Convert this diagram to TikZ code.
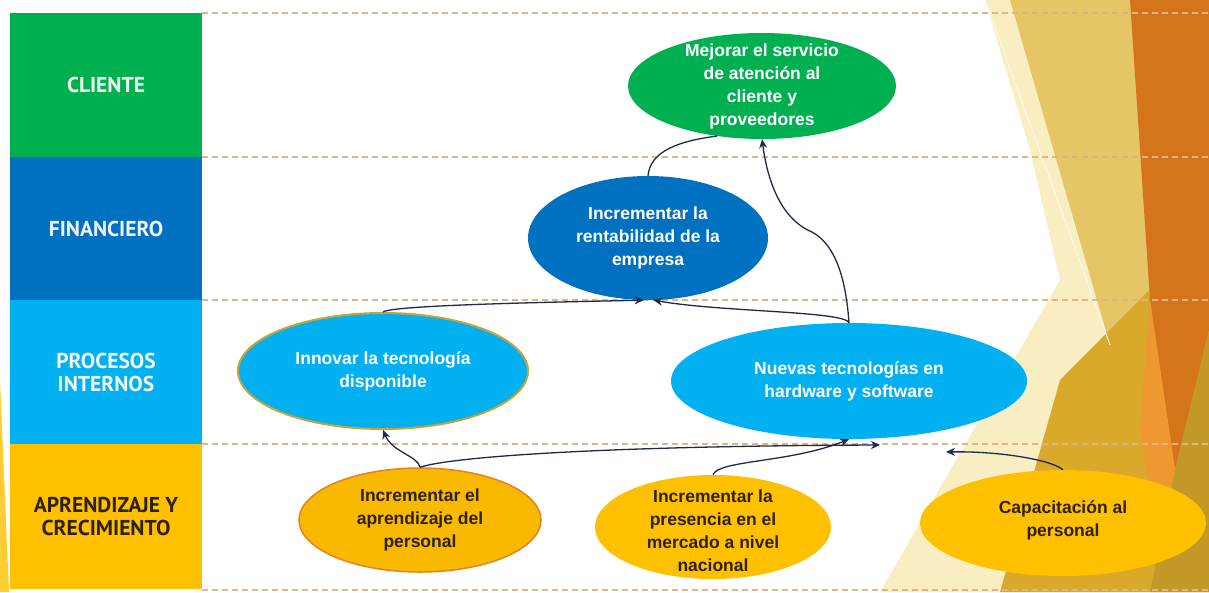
\documentclass[tikz,border=0pt]{standalone}
\usepackage{fontspec}
\setmainfont{Liberation Sans}
\newfontfamily\lanefont{PT Sans}
\usetikzlibrary{shapes.geometric,arrows.meta}

\definecolor{cGreen}{HTML}{00B050}
\definecolor{cBlue}{HTML}{0070C0}
\definecolor{cSky}{HTML}{00B0F0}
\definecolor{cGold}{HTML}{FFC000}
\definecolor{cGoldB}{HTML}{F9B900}
\definecolor{cOrangeLine}{HTML}{E8801E}
\definecolor{cOlive}{HTML}{C9A23A}
\definecolor{cBrown}{HTML}{2E2100}
\definecolor{cLink}{HTML}{1E2A4A}
\definecolor{cDash}{HTML}{DDB48C}
\definecolor{cPale}{HTML}{F9EDC2}
\definecolor{cKhaki}{HTML}{E6C566}
\definecolor{cDeepGold}{HTML}{D9A92C}
\definecolor{cOrange}{HTML}{D4751B}
\definecolor{cLightOrange}{HTML}{EF9832}

\begin{document}
\begin{tikzpicture}[x=1pt,y=-1pt,
  lane/.style={rectangle, minimum width=192pt, inner sep=0pt, align=center,
    font=\lanefont\bfseries\fontsize{21.5}{23}\selectfont},
  goalshape/.style={ellipse, inner sep=0pt},
  goaltext/.style={align=center, inner sep=0pt,
    font=\bfseries\fontsize{17.5}{23}\selectfont},
  link/.style={draw=cLink, line width=1.3pt, -{Stealth[length=9pt,width=8pt]}},
  plainlink/.style={draw=cLink, line width=1.3pt},
  sep/.style={draw=cDash, line width=1.2pt, dash pattern=on 6pt off 4pt}]

\useasboundingbox (0,0) rectangle (1209,592);
\fill[white] (0,0) rectangle (1209,592);

% facets of the slide background on the right
\fill[cPale] (985,0) -- (1135,0) -- (1135,592) -- (880,592) -- (1060,280) -- (1030,150) -- cycle;
\fill[cKhaki] (1010,0) -- (1135,0) -- (1150,300) -- (1110,345) -- cycle;
\fill[cDeepGold] (1060,380) -- (1209,230) -- (1209,592) -- (1000,592) -- cycle;
\fill[cOrange] (1130,0) -- (1209,0) -- (1209,330) -- (1175,470) -- (1150,300) -- cycle;
\fill[cLightOrange] (1150,300) -- (1175,470) -- (1160,560) -- (1140,430) -- cycle;
\fill[cDeepGold!90!black] (1209,330) -- (1209,592) -- (1150,592) -- (1175,470) -- cycle;
\draw[white!60!cPale, line width=1pt] (985,0) -- (1110,345);
\fill[cGold!80!white] (0,380) -- (9,592) -- (0,592) -- cycle;

% row separators
\foreach \yy in {13,157,300,444,590}
  \draw[sep] (202,\yy) -- (1209,\yy);

% perspective labels
\node[lane, fill=cGreen, minimum height=144pt, text=green!8!white] (lblC) at (106,85) {CLIENTE};
\node[lane, fill=cBlue, minimum height=143pt, text=blue!6!white] (lblF) at (106,228.5) {FINANCIERO};
\node[lane, fill=cSky, minimum height=144pt, text=cyan!5!white] (lblP) at (106,372) {PROCESOS\\INTERNOS};
\node[lane, fill=cGold, minimum height=145pt, text=cBrown] (lblA) at (106,516.5) {APRENDIZAJE Y\\CRECIMIENTO};

% objectives
\node[goalshape, fill=cGreen, minimum width=268pt, minimum height=106pt] (mej) at (762,86) {};
\node[goaltext, text=white] (mejT) at (mej) {Mejorar el servicio\\de atención al\\cliente y\\proveedores};

\node[goalshape, fill=cBlue, minimum width=240pt, minimum height=124pt] (ren) at (648,238) {};
\node[goaltext, text=white] (renT) at (ren) {Incrementar la\\rentabilidad de la\\empresa};

\node[goalshape, fill=cSky, draw=cOlive, line width=2pt, minimum width=290pt, minimum height=116pt] (inn) at (383,371) {};
\node[goaltext, text=white] (innT) at (inn) {Innovar la tecnología\\disponible};

\node[goalshape, fill=cSky, minimum width=356pt, minimum height=116pt] (nue) at (849,381) {};
\node[goaltext, text=white] (nueT) at (nue) {Nuevas tecnologías en\\hardware y software};

\node[goalshape, fill=cGoldB, draw=cOrangeLine, line width=1.5pt, minimum width=242pt, minimum height=104pt] (apr) at (420,520) {};
\node[goaltext, text=cBrown] (aprT) at (apr) {Incrementar el\\aprendizaje del\\personal};

\node[goalshape, fill=cGold, minimum width=236pt, minimum height=104pt] (pre) at (713,527) {};
\node[goaltext, text=cBrown] (preT) at (713,531) {Incrementar la\\presencia en el\\mercado a nivel\\nacional};

\node[goalshape, fill=cGold, minimum width=286pt, minimum height=106pt] (cap) at (1063,523) {};
\node[goaltext, text=cBrown] (capT) at (1063,520) {Capacitación al\\personal};

% free ends of two connectors
\coordinate (bEnd) at (880,445);
\coordinate (dEnd) at (946,452);

% cause-effect connectors
\draw[link] (apr.north) .. controls (418,456) and (392,452) .. (inn.south);
\draw[link] (apr.north) .. controls (450,457) and (600,446) .. (bEnd);
\draw[link] (pre.north) .. controls (718,460) and (790,463) .. (nue.south);
\draw[link] (cap.north) .. controls (1052,460) and (1000,451) .. (dEnd);
\draw[link] (inn.north) .. controls (392,305) and (560,302) .. (ren.266);
\draw[link] (nue.north) .. controls (845,311) and (720,312) .. (ren.275);
\draw[link] (nue.north) .. controls (846,280) and (836,245) .. (812,232)
  .. controls (792,224) and (770,200) .. (mej.south);
\draw[plainlink] (ren.north) .. controls (650,155) and (670,142) .. (mej.228);

\end{tikzpicture}
\end{document}
